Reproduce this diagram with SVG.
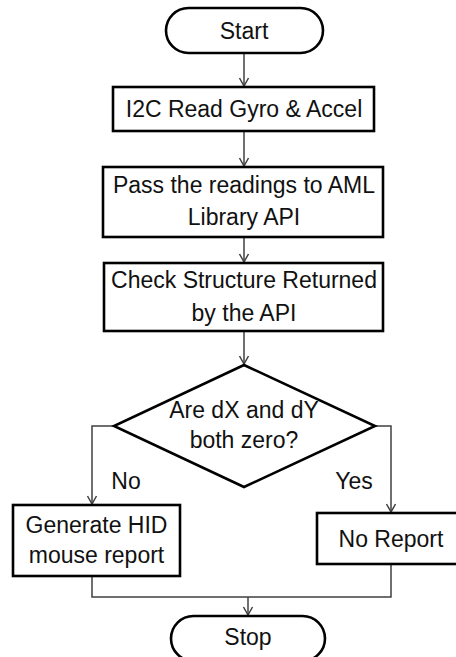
<svg xmlns="http://www.w3.org/2000/svg" width="456" height="657" viewBox="0 0 456 657">
<style>
.shape{fill:#fff;stroke:#000;stroke-width:2.6}
.t{font-family:"Liberation Sans",Arial,sans-serif;font-size:23px;fill:#111;text-anchor:middle}
.c{fill:none;stroke:#404040;stroke-width:1.5}
</style>
<defs>
<marker id="arr" markerUnits="userSpaceOnUse" markerWidth="12" markerHeight="12" refX="10" refY="6" orient="auto">
<path d="M2,1.5 L10,6 L2,10.5" fill="none" stroke="#404040" stroke-width="1.5"/>
</marker>
</defs>
<rect width="456" height="657" fill="#fff"/>
<g id="connectors">
<path class="c" d="M244,53 V86" marker-end="url(#arr)"/>
<path class="c" d="M244,131 V166" marker-end="url(#arr)"/>
<path class="c" d="M244,237 V262" marker-end="url(#arr)"/>
<path class="c" d="M244,331 V364" marker-end="url(#arr)"/>
<path class="c" d="M114,426 H92 V504" marker-end="url(#arr)"/>
<path class="c" d="M375,426 H391 V512" marker-end="url(#arr)"/>
<path class="c" d="M92,576 V597 H391 V564"/>
<path class="c" d="M248,597 V615" marker-end="url(#arr)"/>
<text class="t" x="126" y="489">No</text>
<text class="t" x="354" y="489">Yes</text>
</g>
<g id="start">
<rect class="shape" x="166" y="8" width="157" height="45" rx="22.5"/>
<text class="t" x="244" y="39">Start</text>
</g>
<g id="read">
<rect class="shape" x="113" y="87" width="261" height="44"/>
<text class="t" x="244" y="117">I2C Read Gyro &amp; Accel</text>
</g>
<g id="pass">
<rect class="shape" x="103" y="167" width="280" height="70"/>
<text class="t" x="244" y="193">Pass the readings to AML</text>
<text class="t" x="244" y="225">Library API</text>
</g>
<g id="check">
<rect class="shape" x="104" y="263" width="279" height="68"/>
<text class="t" x="244" y="288">Check Structure Returned</text>
<text class="t" x="244" y="321">by the API</text>
</g>
<g id="decision">
<polygon class="shape" points="244,365 375,426 244,487 114,426"/>
<text class="t" x="244" y="418">Are dX and dY</text>
<text class="t" x="244" y="448">both zero?</text>
</g>
<g id="generate">
<rect class="shape" x="13" y="505" width="167" height="71"/>
<text class="t" x="96.5" y="533">Generate HID</text>
<text class="t" x="96.5" y="563">mouse report</text>
</g>
<g id="noreport">
<rect class="shape" x="317" y="513" width="148" height="51"/>
<text class="t" x="391" y="547">No Report</text>
</g>
<g id="stop">
<rect class="shape" x="171" y="616" width="154" height="45" rx="22.5"/>
<text class="t" x="248" y="645">Stop</text>
</g>
</svg>
